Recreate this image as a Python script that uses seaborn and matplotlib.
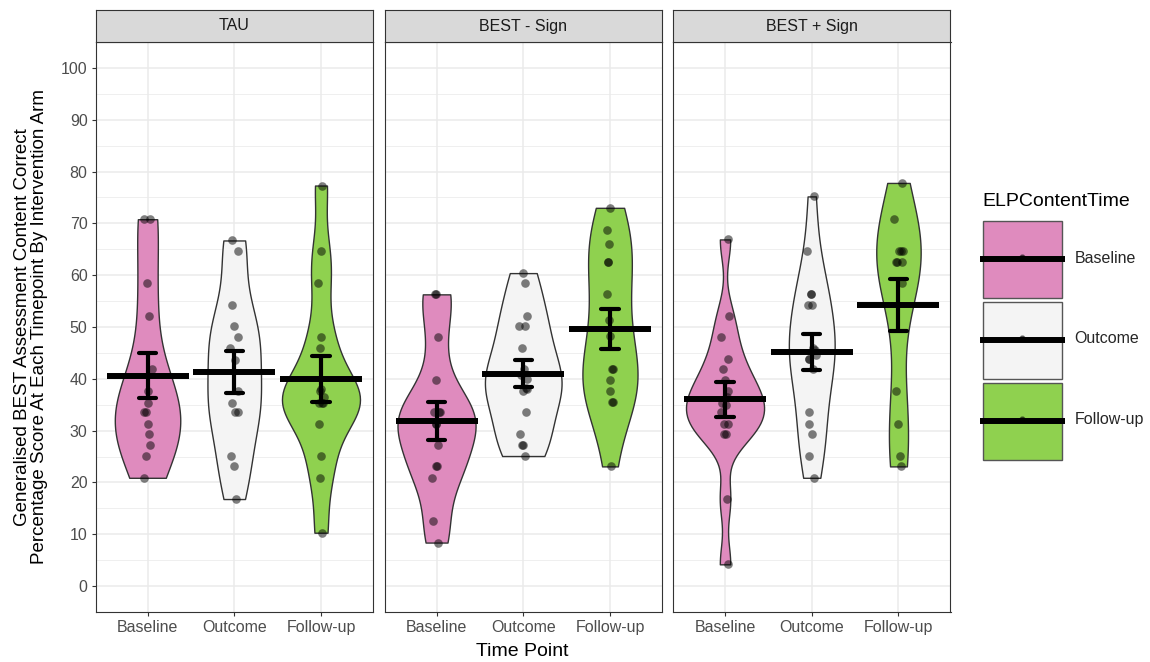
import numpy as np
import pandas as pd
import matplotlib
matplotlib.use("Agg")
import matplotlib.pyplot as plt
from matplotlib.ticker import FixedLocator
from matplotlib.legend_handler import HandlerBase
from matplotlib.patches import Rectangle, Patch
from matplotlib.lines import Line2D
import seaborn as sns

# ---- data: percentage correct per child, by arm and time point ----
arms = ["TAU", "BEST - Sign", "BEST + Sign"]
times = ["Baseline", "Outcome", "Follow-up"]
time_colors = ["#DF8BBE", "#F4F4F4", "#8FD14F"]

tau_baseline = [70.8, 70.8, 58.4, 52.2, 41.8, 37.6, 35.4, 33.5, 33.5, 31.2, 29.3, 27.2, 25.1, 20.9]
tau_outcome = [66.7, 64.6, 54.3, 50.2, 48.0, 46.0, 43.7, 37.6, 35.4, 33.5, 33.5, 25.1, 23.1, 16.8]
tau_followup = [77.3, 64.6, 58.4, 48.0, 46.0, 38.0, 37.6, 36.5, 35.4, 35.4, 35.4, 31.2, 25.1, 20.9, 10.3]

nosign_baseline = [56.3, 56.3, 48.0, 39.7, 33.5, 33.5, 33.5, 31.2, 31.2, 27.2, 23.1, 23.1, 20.9, 12.6, 8.4]
nosign_outcome = [60.4, 58.4, 52.2, 50.2, 50.2, 46.0, 41.8, 40.8, 39.9, 38.0, 38.3, 37.6, 33.5, 29.3, 27.2, 27.2, 25.1]
nosign_followup = [73.0, 68.8, 66.1, 62.6, 62.6, 56.3, 51.4, 48.2, 41.8, 41.8, 39.7, 37.6, 35.5, 35.5, 23.1]

sign_baseline = [66.9, 52.2, 48.0, 43.9, 41.8, 39.8, 37.6, 36.5, 35.4, 35.0, 33.5, 31.2, 31.2, 29.3, 29.3, 16.8, 4.2]
sign_outcome = [75.2, 64.6, 56.3, 56.3, 54.3, 54.3, 46.0, 45.5, 44.5, 43.9, 43.9, 41.8, 33.5, 31.2, 29.3, 25.1, 20.9]
sign_followup = [77.8, 70.8, 64.6, 64.6, 64.6, 62.6, 62.6, 62.6, 58.4, 37.6, 31.2, 25.1, 23.1]

scores = {
    ("TAU", "Baseline"): tau_baseline,
    ("TAU", "Outcome"): tau_outcome,
    ("TAU", "Follow-up"): tau_followup,
    ("BEST - Sign", "Baseline"): nosign_baseline,
    ("BEST - Sign", "Outcome"): nosign_outcome,
    ("BEST - Sign", "Follow-up"): nosign_followup,
    ("BEST + Sign", "Baseline"): sign_baseline,
    ("BEST + Sign", "Outcome"): sign_outcome,
    ("BEST + Sign", "Follow-up"): sign_followup,
}
df = pd.DataFrame(
    [(a, t, v) for (a, t), vals in scores.items() for v in vals],
    columns=["arm", "time", "score"],
)


def nrd0(kde):
    """Silverman's rule of thumb (R's bw.nrd0) as a gaussian_kde factor."""
    x = kde.dataset[0]
    sd = x.std(ddof=1)
    q75, q25 = np.percentile(x, [75, 25])
    h = 0.9 * min(sd, (q75 - q25) / 1.34) * len(x) ** -0.2
    return h / sd


class KeyHandler(HandlerBase):
    """Legend key: filled box with the mean bar and a point across it."""

    def create_artists(self, legend, orig_handle, xdescent, ydescent,
                       width, height, fontsize, trans):
        x0, y0 = -xdescent, -ydescent
        box = Rectangle((x0, y0), width, height,
                        facecolor=orig_handle.get_facecolor(),
                        edgecolor="#555555", linewidth=1.0, transform=trans)
        cy = y0 + height / 2
        bar = Line2D([x0 - 2, x0 + width + 2], [cy, cy], color="black",
                     linewidth=4.3, solid_capstyle="butt", transform=trans)
        dot = Line2D([x0 + width / 2], [cy + 1.5], marker="o", markersize=3.5,
                     color="black", alpha=0.5, linestyle="none", transform=trans)
        return [box, bar, dot]


sns.set_theme(style="white")
plt.rcParams["font.family"] = ["Liberation Sans", "DejaVu Sans"]

W, H = 1150, 662
fig = plt.figure(figsize=(W / 100, H / 100), dpi=100)
fig.patch.set_facecolor("white")

panel_lefts = [95.5, 384.5, 673.0]
panel_w = 277.5
panel_top, panel_bottom = 42, 612
strip_top = 10

np.random.seed(7)

for i, arm in enumerate(arms):
    left = panel_lefts[i]
    ax = fig.add_axes([left / W, 1 - panel_bottom / H,
                       panel_w / W, (panel_bottom - panel_top) / H])
    sub = df[df["arm"] == arm]

    sns.violinplot(data=sub, x="time", y="score", hue="time",
                   order=times, hue_order=times, palette=time_colors,
                   saturation=1, cut=0, density_norm="area", common_norm=True,
                   width=0.9, inner=None, linewidth=1.0, linecolor="#333333",
                   bw_method=nrd0, legend=False, ax=ax)
    sns.stripplot(data=sub, x="time", y="score", order=times, color="black",
                  alpha=0.5, size=6.2, jitter=0.05, linewidth=0, ax=ax)
    sns.pointplot(data=sub, x="time", y="score", order=times,
                  errorbar="se", capsize=0.2, color="black",
                  marker="_", markersize=59, markeredgewidth=4.3,
                  linestyle="none", err_kws={"linewidth": 3.0}, ax=ax)

    ax.set_xlim(-0.6, 2.6)
    ax.set_ylim(-5, 105)
    ax.yaxis.set_major_locator(FixedLocator(np.arange(0, 101, 10)))
    ax.yaxis.set_minor_locator(FixedLocator(np.arange(5, 100, 10)))
    ax.set_xlabel("")
    ax.set_ylabel("")
    ax.set_facecolor("white")
    ax.set_axisbelow(True)
    ax.grid(True, which="major", color="#EBEBEB", linewidth=1.1)
    ax.grid(True, which="minor", axis="y", color="#EBEBEB", linewidth=0.55)
    ax.xaxis.grid(True, which="major", color="#EBEBEB", linewidth=1.1)

    ax.tick_params(axis="both", which="major", length=3.2, width=0.8,
                   color="#333333", labelsize=11.5, labelcolor="#4D4D4D",
                   pad=2.5, bottom=True, left=(i == 0), labelleft=(i == 0))
    ax.tick_params(axis="y", which="minor", length=0)
    for sp in ax.spines.values():
        sp.set_visible(True)
        sp.set_color("#333333")
        sp.set_linewidth(0.8)

    # facet strip
    sax = fig.add_axes([left / W, 1 - panel_top / H,
                        panel_w / W, (panel_top - strip_top) / H])
    sax.set_facecolor("#D9D9D9")
    sax.set_xticks([])
    sax.set_yticks([])
    for sp in sax.spines.values():
        sp.set_visible(True)
        sp.set_color("#333333")
        sp.set_linewidth(0.8)
    sax.text(0.5, 0.5, arm, ha="center", va="center", fontsize=11.5,
             color="#1A1A1A", transform=sax.transAxes)

fig.text(31 / W, 1 - 327 / H,
         "Generalised BEST Assessment Content Correct\n"
         "Percentage Score At Each Timepoint By Intervention Arm",
         rotation=90, ha="center", va="center", multialignment="center",
         fontsize=13.5, color="black", linespacing=1.0)
fig.text(522.5 / W, 1 - 651 / H, "Time Point", ha="center", va="center",
         fontsize=14, color="black")

handles = [Patch(facecolor=c, edgecolor="#555555") for c in time_colors]
fig.text(982 / W, 1 - 201 / H, "ELPContentTime", ha="left", va="center",
         fontsize=14, color="black")
fig.legend(handles, times, handler_map={Patch: KeyHandler()},
           loc="upper left", bbox_to_anchor=(983 / W, 1 - 221 / H),
           frameon=False, fontsize=11.5, handlelength=79 / 16,
           handleheight=7.03, labelspacing=0.25, handletextpad=0.8,
           borderpad=0, borderaxespad=0)

fig.savefig("out.png", dpi=100, facecolor="white")
